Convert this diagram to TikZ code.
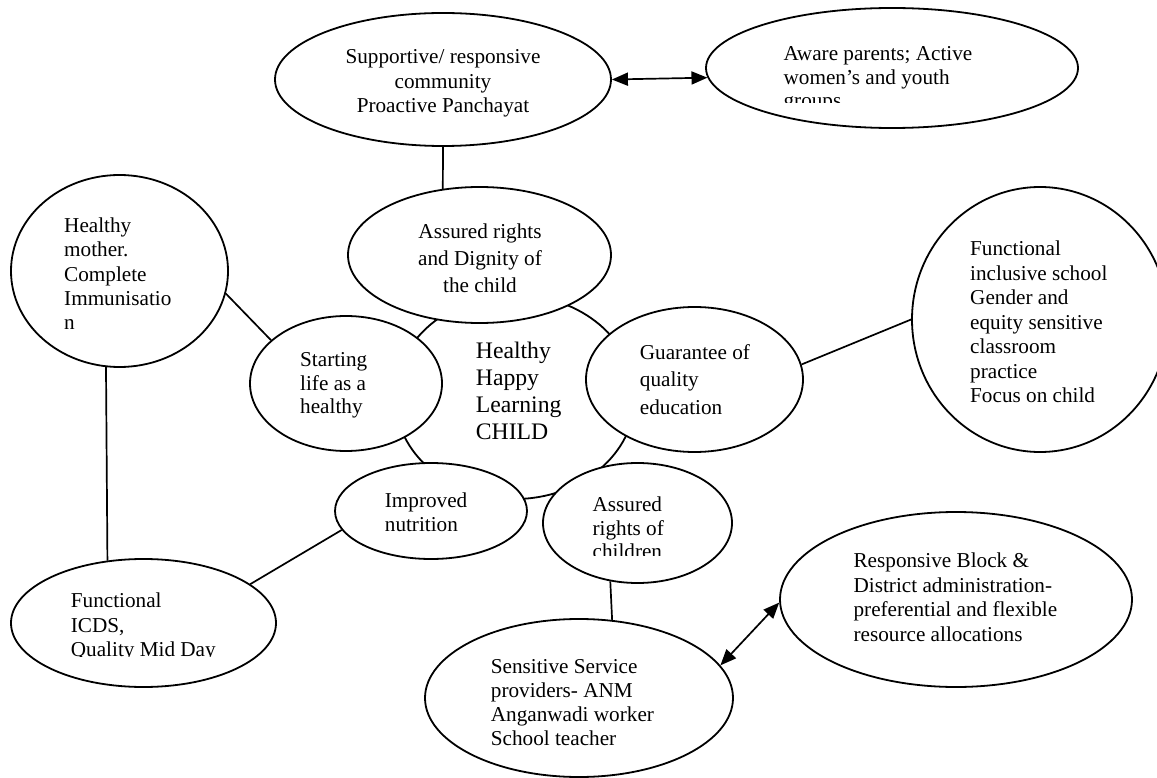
\documentclass[tikz,border=0pt]{standalone}
\usepackage{fontspec}
\setmainfont{Liberation Serif}
\usetikzlibrary{shapes.geometric,arrows.meta}

% a block of lines: size, line spacing, column alignment, lines
\newcommand\txtblk[4]{{\fontsize{#1}{#2}\selectfont\begin{tabular}[t]{@{}#3@{}}#4\end{tabular}}}

\begin{document}
\begin{tikzpicture}[x=1pt,y=-1pt,line width=1.8pt,
  bubble/.style={draw,ellipse,fill=white,inner sep=0pt},
  lbl/.style={inner sep=0pt,anchor=base west},
  clbl/.style={inner sep=0pt,anchor=base},
  link/.style={line width=1.7pt},
  twoway/.style={line width=1.7pt,{Triangle[length=16pt,width=13pt]}-{Triangle[length=16pt,width=13pt]}}]

\useasboundingbox (0,0) rectangle (1157,778);

% central child
\node[bubble,minimum width=240pt,minimum height=204pt] (hub) at (515,397) {};

% bubbles around the child
\node[bubble,minimum width=263pt,minimum height=136pt] (rights) at (479.5,255) {};
\node[bubble,minimum width=192pt,minimum height=135pt] (starting) at (346,383.5) {};
\node[bubble,minimum width=217pt,minimum height=145pt] (guarantee) at (694.5,379.5) {};
\node[bubble,minimum width=192pt,minimum height=96pt] (improved) at (431,511) {};
\node[bubble,minimum width=189pt,minimum height=120pt] (children) at (637.5,523) {};

% outer bubbles
\node[bubble,minimum width=336pt,minimum height=133pt] (sup) at (443,79.5) {};
\node[bubble,minimum width=372pt,minimum height=120pt] (aware) at (892,68) {};
\node[bubble,minimum width=217pt,minimum height=192pt] (mother) at (119.5,271) {};
\node[bubble,minimum width=256pt,minimum height=265pt] (school) at (1040,319.5) {};
\node[bubble,minimum width=265pt,minimum height=128pt] (icds) at (143.5,623) {};
\node[bubble,minimum width=308pt,minimum height=158pt] (sensitive) at (579,698) {};
\node[bubble,minimum width=352pt,minimum height=175pt] (resp) at (956,599.5) {};

% connectors
\draw[twoway] (sup.east) -- (aware.183.6);
\draw[link] (sup.south) -- (rights.119.2);
\draw[link] (mother.-12.6) -- (starting.150.3);
\draw[link] (mother.262.6) -- (icds.120.7);
\draw[link] (icds.20.2) -- (improved.192.7);
\draw[link] (children.245.3) -- (sensitive.67.5);
\draw[link] (guarantee.8.8) -- (school.west);
\draw[twoway] (resp.181.1) -- (sensitive.13.2);

% texts
\node[lbl] (hub-text) at (475,358.3) {\txtblk{23.7pt}{27pt}{l}{Healthy\\Happy\\Learning\\CHILD}};
\node[clbl] (sup-text) at (443,64) {\txtblk{21.2pt}{24.4pt}{c}{Supportive/ responsive\\community\\Proactive Panchayat}};
\begin{scope}
  \clip (700,0) rectangle (1100,102.7);
  \node[lbl] (aware-text) at (782.7,60.7) {\txtblk{21.2pt}{23.5pt}{l}{Aware parents; Active\\women’s and youth\\groups}};
\end{scope}
\begin{scope}
  \clip (340,180) rectangle (620,292.5);
  \node[clbl] (rights-text) at (480,238.3) {\txtblk{21.2pt}{27pt}{c}{Assured rights\\and Dignity of\\the child}};
\end{scope}
\begin{scope}
  \clip (0,170) rectangle (240,328);
  \node[lbl] (mother-text) at (63.3,232.7) {\txtblk{21.2pt}{24.3pt}{l}{Healthy\\mother.\\Complete\\Immunisatio\\n}};
\end{scope}
\node[lbl] (starting-text) at (299.3,366.7) {\txtblk{21.2pt}{23.4pt}{l}{Starting\\life as a\\healthy}};
\node[lbl] (guarantee-text) at (639,359) {\txtblk{21.2pt}{27.6pt}{l}{Guarantee of\\quality\\education}};
\node[lbl] (school-text) at (969.3,255.7) {\txtblk{21.2pt}{24.5pt}{l}{Functional\\inclusive school\\Gender and\\equity sensitive\\classroom\\practice\\Focus on child}};
\begin{scope}
  \clip (0,550) rectangle (290,656.7);
  \node[lbl] (icds-text) at (70,607.7) {\txtblk{21.2pt}{24.5pt}{l}{Functional\\ICDS,\\Quality Mid Day}};
\end{scope}
\node[lbl] (improved-text) at (384,507.7) {\txtblk{21.2pt}{24pt}{l}{Improved\\nutrition}};
\begin{scope}
  \clip (540,460) rectangle (740,555);
  \node[lbl] (children-text) at (591.7,511.7) {\txtblk{21.2pt}{23.4pt}{l}{Assured\\rights of\\children}};
\end{scope}
\begin{scope}
  \clip (420,615) rectangle (740,745.5);
  \node[lbl] (sensitive-text) at (490,673.3) {\txtblk{21.2pt}{24.2pt}{l}{Sensitive Service\\providers- ANM\\Anganwadi worker\\School teacher}};
\end{scope}
\node[lbl] (resp-text) at (852.7,567.3) {\txtblk{21.2pt}{24.8pt}{l}{Responsive Block \&\\District administration-\\preferential and flexible\\resource allocations}};

\end{tikzpicture}
\end{document}
